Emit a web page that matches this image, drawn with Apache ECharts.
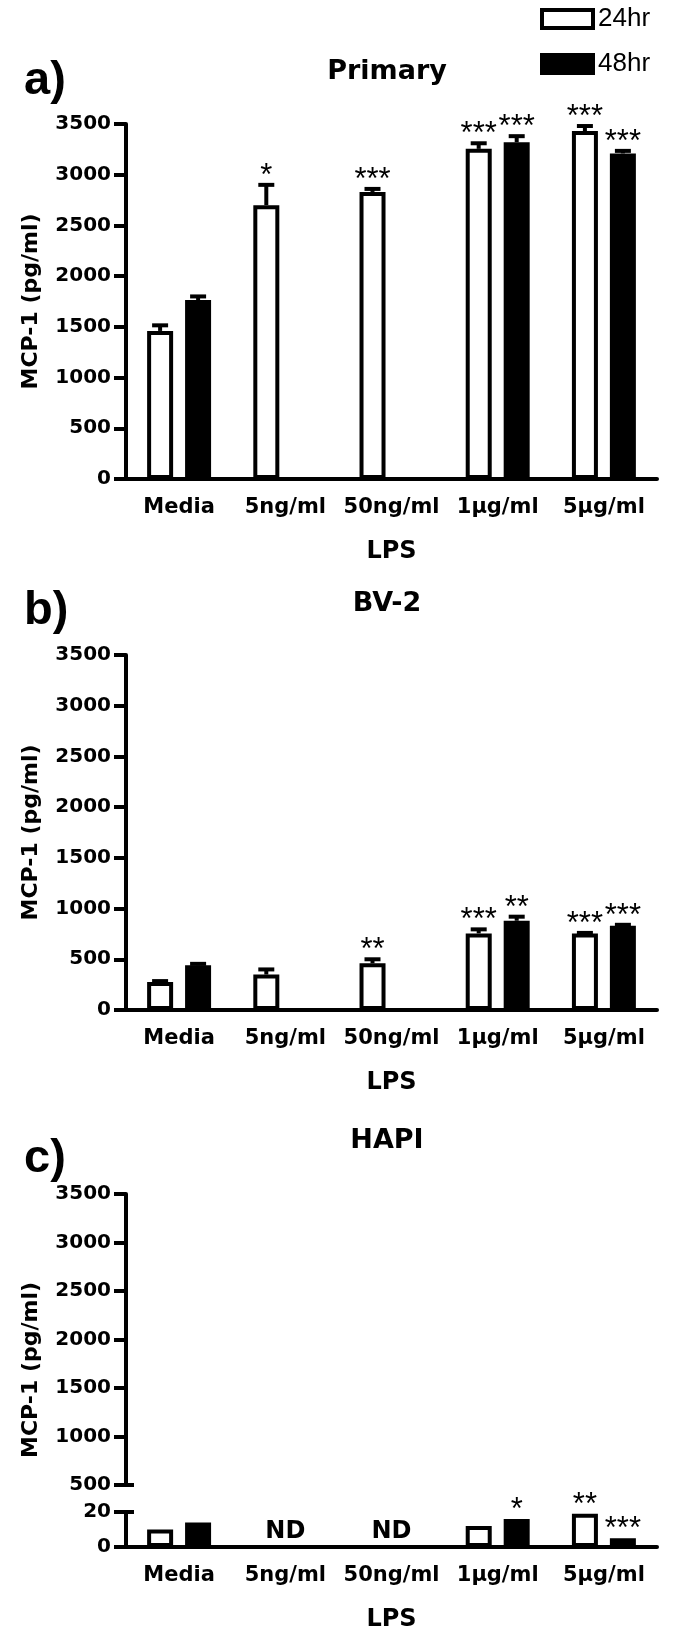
<!DOCTYPE html>
<html>
<head>
<meta charset="utf-8">
<script src="https://cdn.jsdelivr.net/npm/echarts@6/dist/echarts.min.js"></script>
<style>
  html, body { margin: 0; padding: 0; background: #fff; }
  #chart { width: 675px; height: 1635px; }
</style>
</head>
<body>
<div id="chart"></div>
<script>
// categories (LPS dose)
const categories = ['Media', '5ng/ml', '50ng/ml', '1\u03bcg/ml', '5\u03bcg/ml'];

// a) Primary
const primary24 = [1460, 2700, 2830, 3255, 3430];
const primary24Err = [55, 200, 30, 55, 50];
const primary48 = [1765, null, null, 3320, 3210];
const primary48Err = [35, null, null, 60, 25];
const primary24Stars = ['', '*', '***', '***', '***'];
const primary48Stars = ['', '', '', '***', '***'];

// b) BV-2
const bv24 = [275, 350, 460, 755, 755];
const bv24Err = [10, 50, 40, 40, 5];
const bv48 = [440, null, null, 880, 830];
const bv48Err = [15, null, null, 40, 10];
const bv24Stars = ['', '', '**', '***', '***'];
const bv48Stars = ['', '', '', '**', '***'];

// c) HAPI (broken axis)
const hapi24 = [10, null, null, 12, 19];
const hapi48 = [14, null, null, 16, 5];
const hapi24Stars = ['', '', '', '', '**'];
const hapi48Stars = ['', '', '', '*', '***'];
const hapiND = ['', 'ND', 'ND', '', ''];

const upperTicks = [500, 3500, 500];   // min, max, interval
const mainTicks = [0, 3500, 500];
const lowerTicks = [0, 20, 20];

const FONT = 'DejaVu Sans, sans-serif';
const ARIAL = 'Liberation Sans, Arial, sans-serif';
const BAR_W = 26;
const BAR_SHIFT = 19;

let myChart = echarts.init(document.getElementById('chart'));

function catAxis(grid, show) {
  return {
    type: 'category',
    gridIndex: grid,
    data: categories,
    show: show,
    name: 'LPS',
    nameLocation: 'middle',
    nameGap: 61,
    nameTextStyle: { color: '#000', fontSize: 24, fontWeight: 'bold', fontFamily: FONT },
    axisLine: { lineStyle: { color: '#000', width: 4 } },
    axisTick: { alignWithLabel: true, length: 10, lineStyle: { color: '#000', width: 4 } },
    axisLabel: { color: '#000', fontSize: 21, fontWeight: 'bold', fontFamily: FONT, margin: 18, interval: 0 }
  };
}

function valAxis(grid, t, name) {
  return {
    type: 'value',
    gridIndex: grid,
    position: 'left',
    min: t[0],
    max: t[1],
    interval: t[2],
    name: name,
    nameLocation: 'middle',
    nameGap: 84,
    nameTextStyle: { color: '#000', fontSize: 22, fontWeight: 'bold', fontFamily: FONT },
    splitLine: { show: false },
    axisLine: { show: true, lineStyle: { color: '#000', width: 4 } },
    axisTick: { show: true, length: 12, lineStyle: { color: '#000', width: 4 } },
    axisLabel: {
      color: '#000', fontSize: 20, fontWeight: 'bold', fontFamily: FONT, margin: 15,
      formatter: function (v) { return String(v); }
    }
  };
}

// short inner stub at the ends of the axis break
function breakCap(grid, t, at) {
  return {
    type: 'value',
    gridIndex: grid,
    position: 'left',
    offset: 0,
    min: t[0],
    max: t[1],
    interval: t[2],
    axisLine: { show: false },
    axisLabel: { show: false },
    splitLine: { show: false },
    axisTick: { show: true, inside: true, length: 8, customValues: [at], lineStyle: { color: '#000', width: 4 } }
  };
}

function bars(name, grid, data, fill) {
  return {
    name: name,
    type: 'bar',
    xAxisIndex: grid,
    yAxisIndex: grid,
    data: data,
    barWidth: BAR_W,
    barGap: '46%',
    itemStyle: { color: fill, borderColor: '#000', borderWidth: 4 },
    emphasis: { disabled: true }
  };
}

// error bar (upper only) + significance stars
function errors(grid, values, errs, stars, side) {
  return {
    type: 'custom',
    xAxisIndex: grid,
    yAxisIndex: grid,
    z: 5,
    silent: true,
    data: values.map((v, i) => [i, v == null ? 0 : v]),
    renderItem: function (params, api) {
      let i = params.dataIndex;
      let v = values[i];
      if (v == null) return null;
      let e = errs ? (errs[i] || 0) : 0;
      let base = api.coord([i, v]);
      let top = api.coord([i, v + e]);
      let x = base[0] + side * BAR_SHIFT;
      let kids = [];
      if (e > 0) {
        kids.push({ type: 'line', shape: { x1: x, y1: base[1], x2: x, y2: top[1] }, style: { stroke: '#000', lineWidth: 4 } });
        kids.push({ type: 'line', shape: { x1: x - 8, y1: top[1], x2: x + 8, y2: top[1] }, style: { stroke: '#000', lineWidth: 4 } });
      }
      if (stars[i]) {
        kids.push({
          type: 'text',
          x: x,
          y: top[1] + 7,
          style: { text: stars[i], textAlign: 'center', textVerticalAlign: 'bottom', fontSize: 31, fontFamily: ARIAL, fill: '#000' }
        });
      }
      return { type: 'group', children: kids };
    }
  };
}

let option = {
  animation: false,
  backgroundColor: '#fff',
  textStyle: { fontFamily: FONT },
  title: [
    { text: 'a)', left: 24, top: 58, padding: 0, textStyle: { fontSize: 47, fontWeight: 'bold', color: '#000', fontFamily: ARIAL } },
    { text: 'Primary', left: 387, textAlign: 'center', top: 58, padding: 0, textStyle: { fontSize: 27, fontWeight: 'bold', color: '#000', fontFamily: FONT } },
    { text: 'b)', left: 24, top: 588, padding: 0, textStyle: { fontSize: 47, fontWeight: 'bold', color: '#000', fontFamily: ARIAL } },
    { text: 'BV-2', left: 387, textAlign: 'center', top: 590, padding: 0, textStyle: { fontSize: 27, fontWeight: 'bold', color: '#000', fontFamily: FONT } },
    { text: 'c)', left: 24, top: 1136, padding: 0, textStyle: { fontSize: 47, fontWeight: 'bold', color: '#000', fontFamily: ARIAL } },
    { text: 'HAPI', left: 387, textAlign: 'center', top: 1127, padding: 0, textStyle: { fontSize: 27, fontWeight: 'bold', color: '#000', fontFamily: FONT } }
  ],
  legend: {
    orient: 'vertical',
    left: 540,
    top: 6,
    padding: 0,
    itemWidth: 51,
    itemHeight: 18,
    itemGap: 19,
    selectedMode: false,
    textStyle: { fontSize: 26, color: '#000', fontFamily: ARIAL, lineHeight: 20 },
    data: [
      { name: '24hr', icon: 'rect', itemStyle: { color: '#fff', borderColor: '#000', borderWidth: 4 } },
      { name: '48hr', icon: 'rect', itemStyle: { color: '#000', borderColor: '#000', borderWidth: 4 } }
    ]
  },
  grid: [
    { left: 126, width: 531, top: 124, height: 355 },
    { left: 126, width: 531, top: 655, height: 355 },
    { left: 126, width: 531, top: 1194, height: 291 },
    { left: 126, width: 531, top: 1512, height: 35 }
  ],
  xAxis: [catAxis(0, true), catAxis(1, true), catAxis(2, false), catAxis(3, true)],
  yAxis: [
    valAxis(0, mainTicks, 'MCP-1 (pg/ml)'),
    valAxis(1, mainTicks, 'MCP-1 (pg/ml)'),
    valAxis(2, upperTicks, ''),
    valAxis(3, lowerTicks, ''),
    breakCap(2, upperTicks, 500),
    breakCap(3, lowerTicks, 20)
  ],
  graphic: [
    {
      type: 'text',
      x: 31,
      y: 1370,
      rotation: Math.PI / 2,
      style: { text: 'MCP-1 (pg/ml)', textAlign: 'center', textVerticalAlign: 'middle', fontSize: 22, fontWeight: 'bold', fontFamily: FONT, fill: '#000' }
    }
  ],
  series: [
    bars('24hr', 0, primary24, '#fff'),
    bars('48hr', 0, primary48, '#000'),
    bars('24hr', 1, bv24, '#fff'),
    bars('48hr', 1, bv48, '#000'),
    bars('24hr', 2, [null, null, null, null, null], '#fff'),
    bars('24hr', 3, hapi24, '#fff'),
    bars('48hr', 3, hapi48, '#000'),
    errors(0, primary24, primary24Err, primary24Stars, -1),
    errors(0, primary48, primary48Err, primary48Stars, 1),
    errors(1, bv24, bv24Err, bv24Stars, -1),
    errors(1, bv48, bv48Err, bv48Stars, 1),
    errors(3, hapi24, null, hapi24Stars, -1),
    errors(3, hapi48, null, hapi48Stars, 1),
    {
      type: 'custom',
      xAxisIndex: 3,
      yAxisIndex: 3,
      silent: true,
      data: hapiND.map((t, i) => [i, 0]),
      renderItem: function (params, api) {
        let t = hapiND[params.dataIndex];
        if (!t) return null;
        let p = api.coord([params.dataIndex, 0]);
        return {
          type: 'text',
          x: p[0],
          y: p[1] - 15,
          style: { text: t, textAlign: 'center', textVerticalAlign: 'middle', fontSize: 24, fontWeight: 'bold', fontFamily: FONT, fill: '#000' }
        };
      }
    }
  ]
};

myChart.setOption(option);
</script>
</body>
</html>
